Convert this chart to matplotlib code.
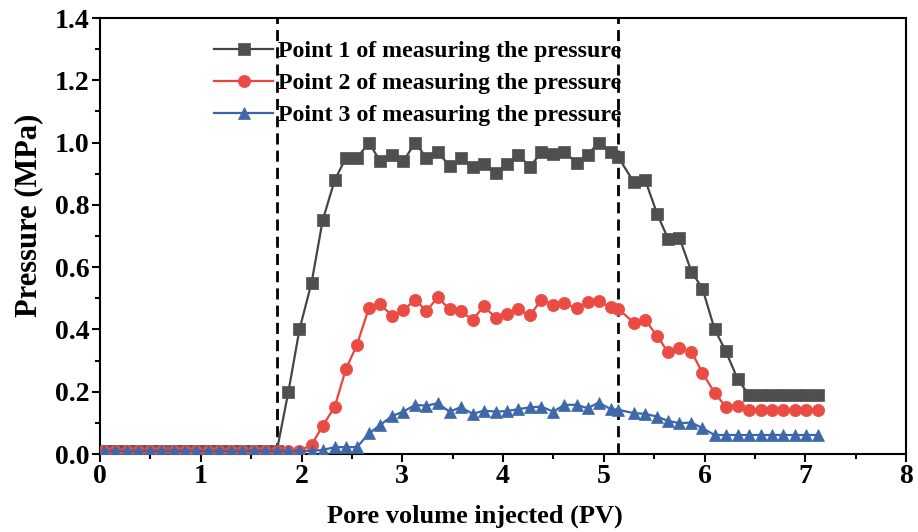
import matplotlib
matplotlib.use("Agg")
import matplotlib.pyplot as plt
from matplotlib.ticker import MultipleLocator, FormatStrFormatter

# Pore volume injected (PV) at each sampling step
pv = [0.04, 0.15, 0.27, 0.38, 0.50, 0.61, 0.73, 0.84, 0.95, 1.07,
      1.18, 1.30, 1.41, 1.53, 1.64, 1.755, 1.87, 1.98, 2.10, 2.21,
      2.33, 2.44, 2.55, 2.67, 2.78, 2.90, 3.01, 3.13, 3.24, 3.35,
      3.47, 3.58, 3.70, 3.81, 3.93, 4.04, 4.15, 4.27, 4.38, 4.50,
      4.61, 4.73, 4.84, 4.95, 5.07, 5.145, 5.30, 5.41, 5.53, 5.64,
      5.75, 5.87, 5.98, 6.10, 6.21, 6.33, 6.44, 6.56, 6.67, 6.78,
      6.90, 7.01, 7.13]

# Pressure (MPa) at the three measuring points
p1 = [0.01] * 16 + [
    0.20, 0.40, 0.55, 0.75, 0.88, 0.95, 0.95, 1.00, 0.94, 0.96,
    0.94, 1.00, 0.95, 0.97, 0.925, 0.95, 0.922, 0.93, 0.902, 0.93,
    0.961, 0.922, 0.97, 0.963, 0.97, 0.935, 0.961, 1.00, 0.97, 0.953,
    0.872, 0.881, 0.771, 0.69, 0.695, 0.586, 0.531, 0.401, 0.331, 0.24,
    0.19, 0.19, 0.19, 0.19, 0.19, 0.19, 0.19]

p2 = [0.01] * 18 + [
    0.03, 0.09, 0.152, 0.272, 0.35, 0.47, 0.481, 0.444, 0.461, 0.496,
    0.458, 0.503, 0.465, 0.458, 0.431, 0.475, 0.436, 0.450, 0.465, 0.445,
    0.496, 0.480, 0.484, 0.468, 0.487, 0.490, 0.471, 0.466, 0.421, 0.431,
    0.379, 0.326, 0.341, 0.329, 0.26, 0.197, 0.152, 0.153,
    0.141, 0.141, 0.141, 0.141, 0.141, 0.141, 0.141]

p3 = [0.01] * 19 + [
    0.013, 0.022, 0.022, 0.022, 0.066, 0.093, 0.122, 0.136, 0.158, 0.155,
    0.163, 0.136, 0.150, 0.129, 0.139, 0.136, 0.138, 0.144, 0.150, 0.152,
    0.136, 0.158, 0.158, 0.147, 0.165, 0.144, 0.142, 0.131, 0.129, 0.120,
    0.106, 0.099, 0.101, 0.083,
    0.061, 0.061, 0.061, 0.061, 0.061, 0.061, 0.061, 0.061, 0.061, 0.061]

labels = ["Point 1 of measuring the pressure",
          "Point 2 of measuring the pressure",
          "Point 3 of measuring the pressure"]

# Boundaries between injection stages
stage_bounds = [1.755, 5.145]

plt.rcParams["font.family"] = ["Liberation Serif", "DejaVu Serif"]
plt.rcParams["font.weight"] = "bold"

fig = plt.figure(figsize=(9.18, 5.32), dpi=100)
ax = fig.add_axes([100 / 918, 78 / 532, 806 / 918, 436 / 532])

for xb in stage_bounds:
    ax.axvline(xb, color="black", lw=2, ls=(0, (4, 2.2)), zorder=1)

ax.plot(pv, p1, color="#454545", lw=1.6, marker="s", ms=8.2,
        mfc="#4f4f4f", mec="#4f4f4f", mew=0.5, label=labels[0], zorder=3)
ax.plot(pv, p2, color="#e8453c", lw=1.6, marker="o", ms=8.8,
        mfc="#ea4b42", mec="#ea4b42", mew=0.5, label=labels[1], zorder=4)
ax.plot(pv, p3, color="#3a66a8", lw=1.6, marker="^", ms=9.2,
        mfc="#3e68aa", mec="#3e68aa", mew=0.5, label=labels[2], zorder=5)

ax.set_xlim(0, 8)
ax.set_ylim(0, 1.4)
ax.xaxis.set_major_locator(MultipleLocator(1))
ax.xaxis.set_minor_locator(MultipleLocator(0.5))
ax.yaxis.set_major_locator(MultipleLocator(0.2))
ax.yaxis.set_minor_locator(MultipleLocator(0.1))
ax.yaxis.set_major_formatter(FormatStrFormatter("%.1f"))

ax.tick_params(which="both", direction="out", width=1.5,
               top=False, right=False)
ax.tick_params(which="major", length=5.5, labelsize=20, pad=2)
ax.tick_params(which="minor", length=3.5)
for lab in ax.get_xticklabels() + ax.get_yticklabels():
    lab.set_fontweight("bold")

for sp in ax.spines.values():
    sp.set_linewidth(1.5)

ax.set_xlabel("Pore volume injected (PV)", fontsize=19, fontweight="bold")
ax.set_ylabel("Pressure (MPa)", fontsize=22, fontweight="bold")
ax.xaxis.set_label_coords(0.465, -0.115)
ax.yaxis.set_label_coords(-0.07, 0.548)

leg = ax.legend(loc="upper left", bbox_to_anchor=(0.142, 0.948),
                frameon=False, fontsize=17.2, handlelength=2.45,
                handletextpad=0.2, labelspacing=0.43, borderpad=0,
                borderaxespad=0, numpoints=1)
for t in leg.get_texts():
    t.set_fontweight("bold")

fig.savefig("out.png", dpi=100)
